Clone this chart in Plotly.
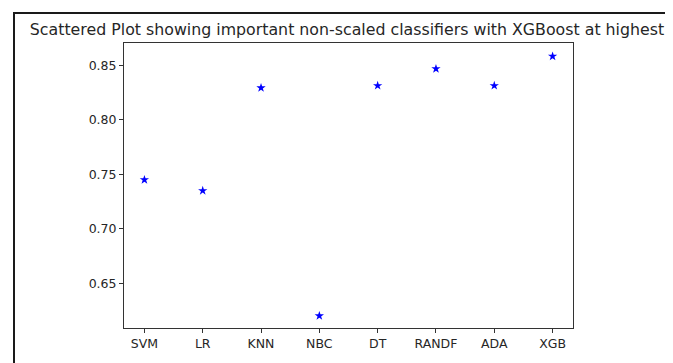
import plotly.graph_objects as go

classifiers = ["SVM", "LR", "KNN", "NBC", "DT", "RANDF", "ADA", "XGB"]
accuracy = [0.745, 0.735, 0.8295, 0.620, 0.8315, 0.847, 0.8315, 0.8585]
y_ticks = [0.65, 0.70, 0.75, 0.80, 0.85]
y_tick_labels = ["0.65", "0.70", "0.75", "0.80", "0.85"]
title_text = "Scattered Plot showing important non-scaled classifiers with XGBoost at highest"

# page body has an 8px default margin; figure is sized to fit the window
OFF = 8
W, H = 673 - OFF, 363 - OFF
L, R, T, B = 124 - OFF, 100, 43 - OFF, 35
pw, ph = W - L - R, H - T - B

def px_to_paper_x(px):
    return (px - OFF - L) / pw

def px_to_paper_y(py):
    return (H - B - (py - OFF)) / ph

fig = go.Figure()
fig.add_trace(go.Scatter(
    x=list(range(len(classifiers))), y=accuracy, mode="markers",
    marker=dict(symbol="star", size=7, color="#0000ff", line=dict(width=0)),
    showlegend=False,
))

fig.update_layout(
    width=W, height=H,
    margin=dict(l=L, r=R, t=T, b=B),
    paper_bgcolor="white", plot_bgcolor="white",
    font=dict(family="DejaVu Sans", size=12.5, color="#262626"),
    title=dict(text=title_text, x=px_to_paper_x(347), xref="paper", xanchor="center",
               y=1 - (29 - OFF) / H, yanchor="middle", yref="container",
               font=dict(size=15.8, color="#262626")),
    xaxis=dict(
        range=[-0.35, 7.35], tickmode="array",
        tickvals=list(range(len(classifiers))), ticktext=classifiers,
        showgrid=False, zeroline=False, showline=True, mirror=True,
        linecolor="#333333", linewidth=1, ticks="outside", ticklen=4,
        tickcolor="#333333",
    ),
    yaxis=dict(
        range=[0.6088, 0.8707], tickmode="array",
        tickvals=y_ticks, ticktext=y_tick_labels,
        showgrid=False, zeroline=False, showline=True, mirror=True,
        linecolor="#333333", linewidth=1, ticks="outside", ticklen=4,
        tickcolor="#333333",
    ),
    shapes=[dict(
        type="rect", xref="paper", yref="paper",
        x0=px_to_paper_x(14), x1=px_to_paper_x(720),
        y0=px_to_paper_y(420), y1=px_to_paper_y(13),
        line=dict(color="#1a1a1a", width=2), fillcolor="rgba(0,0,0,0)",
        layer="below",
    )],
)

fig.write_html("out.html")
